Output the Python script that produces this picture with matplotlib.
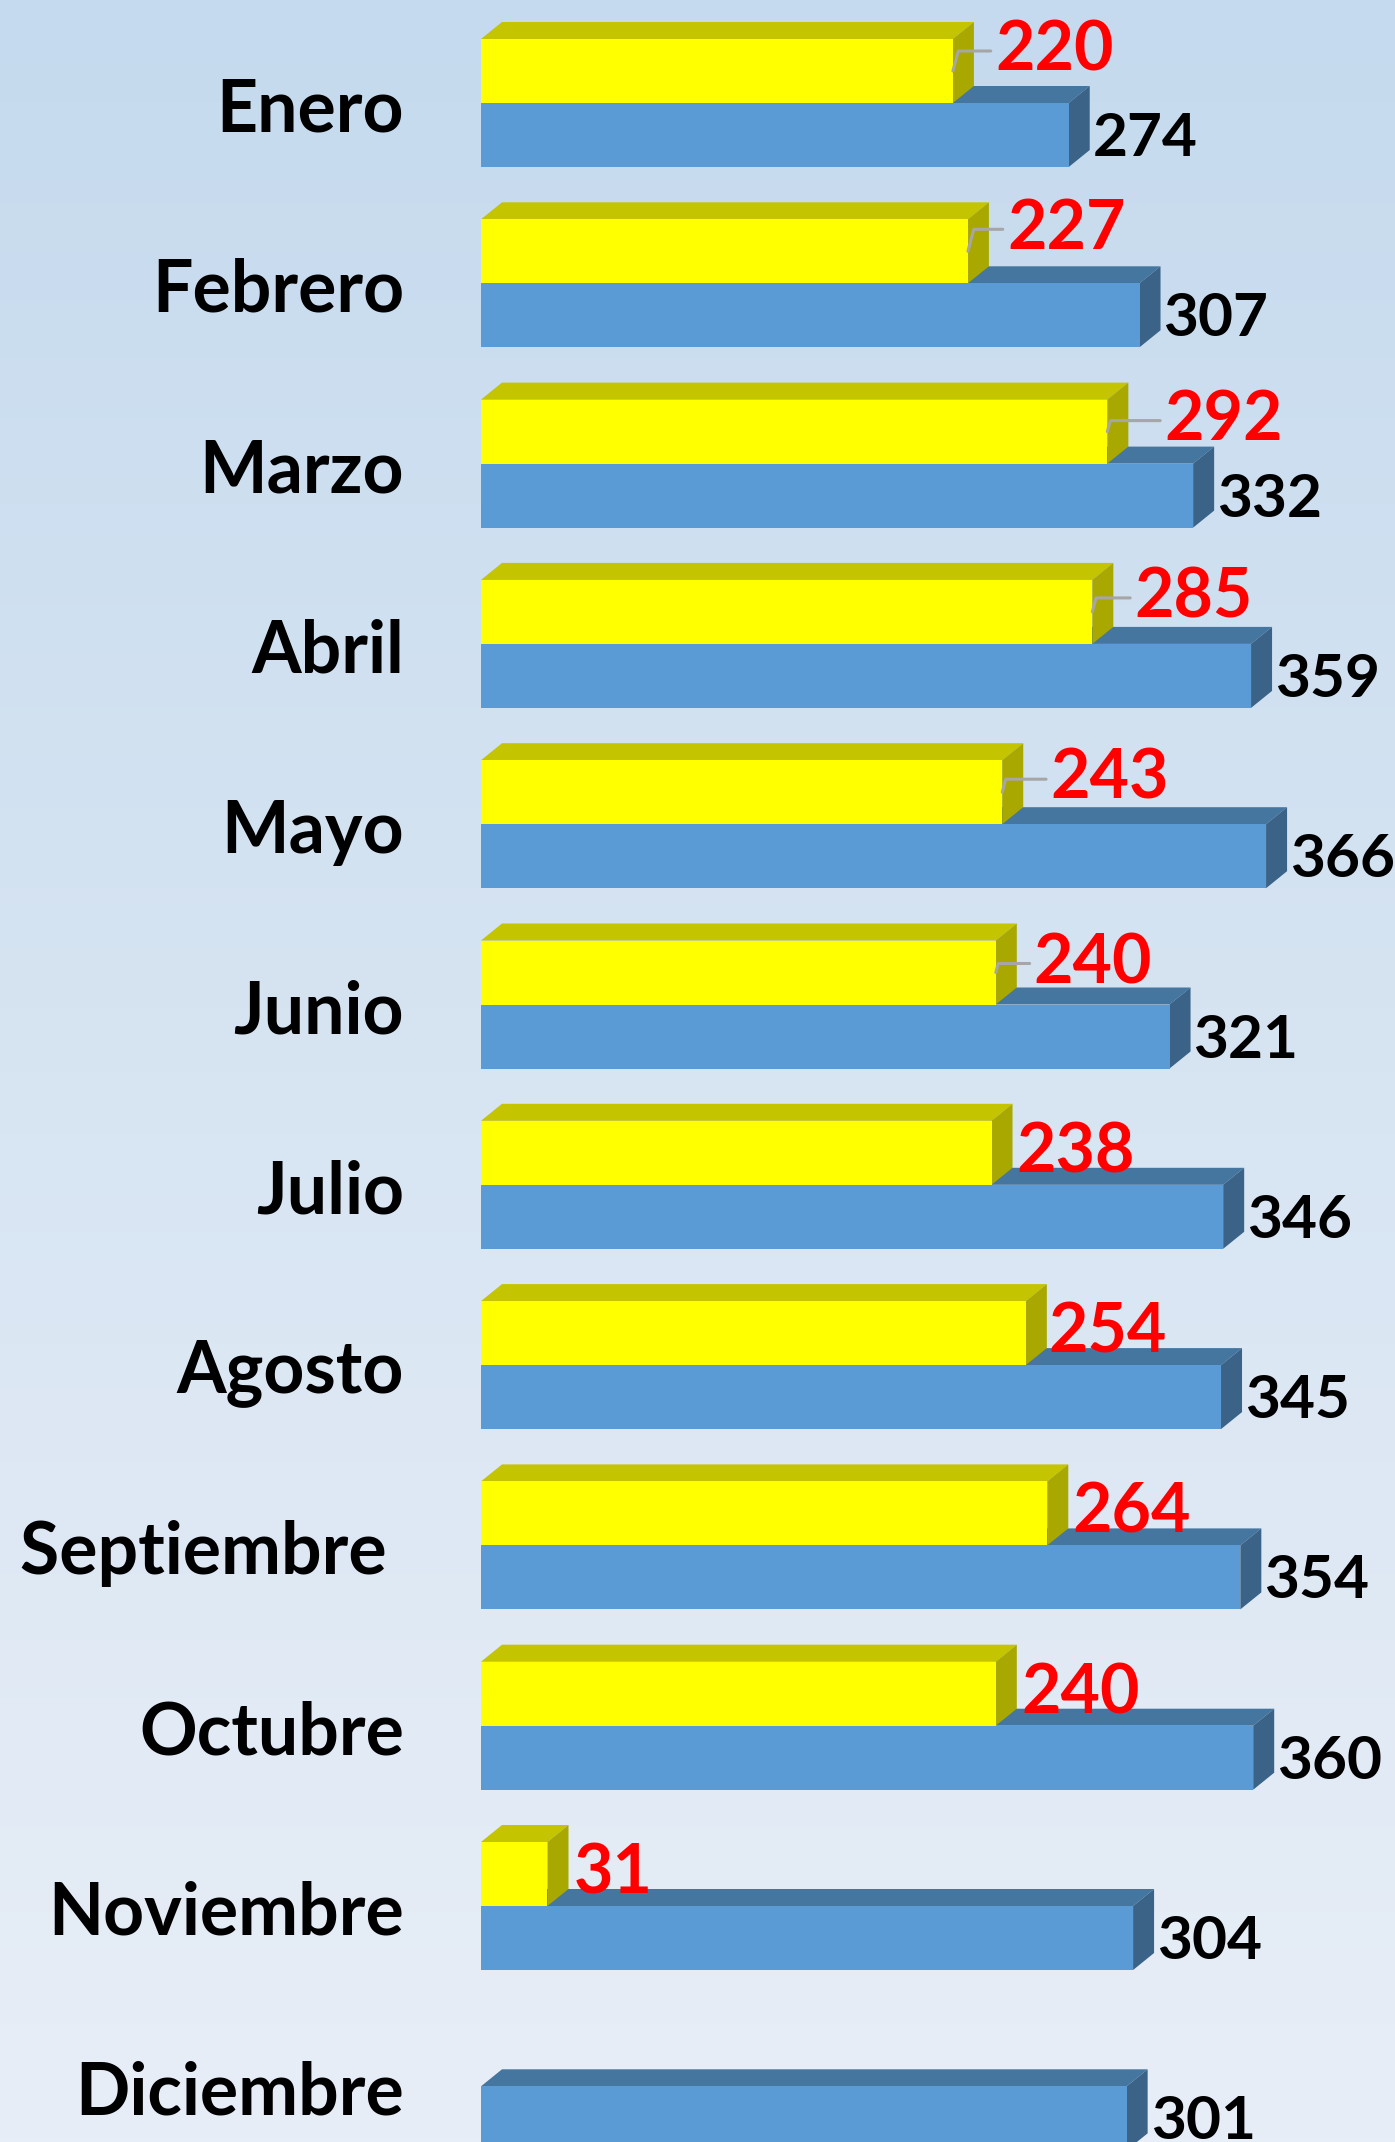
import numpy as np
import matplotlib
matplotlib.use("Agg")
import matplotlib.pyplot as plt
from matplotlib.patches import Polygon

months = ["Enero", "Febrero", "Marzo", "Abril", "Mayo", "Junio", "Julio",
          "Agosto", "Septiembre ", "Octubre", "Noviembre", "Diciembre"]
serie_actual = [220, 227, 292, 285, 243, 240, 238, 254, 264, 240, 31, None]
serie_anterior = [274, 307, 332, 359, 366, 321, 346, 345, 354, 360, 304, 301]

# label nudges in pixels (x right, y up) for the red labels that were moved by hand
red_nudge = [(42, 20), (39, 22), (57, 11), (42, 14), (48, 13), (38, 9),
             (25, 0), (23, 0), (25, 0), (26, 0), (26, 0), (25, 0)]

W, H = 1395, 2142
px_per_unit = 2.145
row_px = 180.3
x0_px = 481
y0_px = 103

fig = plt.figure(figsize=(W / 100, H / 100), dpi=100)
ax = fig.add_axes([0, 0, 1, 1])
xmin = -x0_px / px_per_unit
xmax = (W - x0_px) / px_per_unit
ytop = -y0_px / row_px
ybot = (H - y0_px) / row_px
ax.set_xlim(xmin, xmax)
ax.set_ylim(ybot, ytop)
ax.axis("off")

# background gradient
c_top = np.array([197, 218, 238]) / 255
c_mid = np.array([214, 228, 242]) / 255
c_bot = np.array([232, 238, 247]) / 255
t = np.linspace(0, 1, 400)[:, None]
grad = np.where(t < 0.47, c_top + (c_mid - c_top) * (t / 0.47),
                c_mid + (c_bot - c_mid) * ((t - 0.47) / 0.53))
ax.imshow(grad[:, None, :], extent=[xmin, xmax, ybot, ytop], aspect="auto", zorder=0)

h = 64 / row_px
dx = 21 / px_per_unit
dy = 17 / row_px

blue = dict(front="#5B9BD5", top="#44769F", side="#3A6387")
yellow = dict(front="#FFFF00", top="#C4C400", side="#A8A800")


def bar3d(v, y_top, cols, z):
    y_bot = y_top + h
    ax.barh(y_top + h / 2, v, height=h, left=0, color=cols["front"], zorder=z + 0.2, linewidth=0)
    top = [(0, y_top), (v, y_top), (v + dx, y_top - dy), (dx, y_top - dy)]
    side = [(v, y_top), (v + dx, y_top - dy), (v + dx, y_bot - dy), (v, y_bot)]
    ax.add_patch(Polygon(top, closed=True, facecolor=cols["top"], linewidth=0, zorder=z))
    ax.add_patch(Polygon(side, closed=True, facecolor=cols["side"], linewidth=0, zorder=z + 0.1))


font = "Lato"
for i, m in enumerate(months):
    b = serie_anterior[i]
    bar3d(b, i, blue, 2)
    ax.annotate(str(b), xy=(b, i + h / 2), xytext=(24 * 0.72, -4 * 0.72),
                textcoords="offset points", ha="left", va="center",
                fontsize=43.5, fontweight="bold", color="black", family=font, zorder=10)
    ax.text(xmin + 404 / px_per_unit, i + 8 / row_px, m, ha="right", va="center",
            fontsize=51.5, fontweight="bold", color="black", family=font, zorder=10)

for i, m in enumerate(months):
    v = serie_actual[i]
    if v is None:
        continue
    bar3d(v, i - h, yellow, 4)
    nx, ny = red_nudge[i]
    arrow = None
    if nx > 30:
        arrow = dict(arrowstyle="-", color="#A6A6A6", lw=2.2, shrinkA=1, shrinkB=0,
                     connectionstyle="angle,angleA=0,angleB=75,rad=0")
    ax.annotate(str(v), xy=(v, i - h / 2), xytext=(nx * 0.72, ny * 0.72),
                textcoords="offset points", ha="left", va="center",
                fontsize=49, fontweight="bold", color="#FF0000", family=font,
                arrowprops=arrow, zorder=10)

fig.savefig("out.png", dpi=100)
